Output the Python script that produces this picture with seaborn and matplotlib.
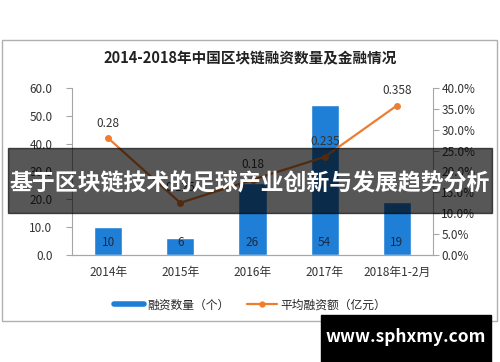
import matplotlib
matplotlib.use("Agg")
import matplotlib.pyplot as plt
from matplotlib.patches import Rectangle
from matplotlib.lines import Line2D
import seaborn as sns

sns.set_style("white")
plt.rcParams['font.family'] = ['Noto Sans CJK SC', 'DejaVu Sans']

# data
years = ["2014年", "2015年", "2016年", "2017年", "2018年1-2月"]
counts = [10, 6, 26, 54, 19]
avg_amount = [0.28, 0.125, 0.18, 0.235, 0.358]
avg_labels = ["0.28", "0.125", "0.18", "0.235", "0.358"]
left_ticks = [0, 10, 20, 30, 40, 50, 60]
right_ticks = [0, 5, 10, 15, 20, 25, 30, 35, 40]

bar_color = "#1f7fd6"
line_color = "#ed7d31"
axis_gray = "#a6a6a6"
text_color = "#333333"

fig = plt.figure(figsize=(5.0, 3.62), dpi=100)
W, H = 500, 362

# outer chart frame
fig.patches.append(Rectangle((2 / W, 1 - 321 / H), 495 / W, 281 / H,
                             transform=fig.transFigure, fill=False,
                             edgecolor="#b0b0b0", lw=1))

ax = fig.add_axes([72 / W, 1 - 255 / H, 361 / W, 167 / H])
sns.barplot(x=years, y=counts, color=bar_color, width=0.39,
            saturation=1, ax=ax)
ax.set_ylim(0, 60)
ax.set_xlim(-0.5, 4.5)
ax.set_yticks(left_ticks)
ax.set_yticklabels([f"{v:.1f}" for v in left_ticks])
ax.set_xlabel("")
ax.set_ylabel("")
for i, v in enumerate(counts):
    ax.text(i, 4.5, str(v), ha="center", va="center", fontsize=8.5,
            color="#1a2a44")

ax2 = ax.twinx()
pct = [v * 100 for v in avg_amount]
sns.lineplot(x=list(range(len(years))), y=pct, color=line_color, lw=1.6,
             marker="o", markersize=5, markeredgewidth=0, ax=ax2)
ax2.set_ylim(0, 40)
ax2.set_yticks(right_ticks)
ax2.set_yticklabels([f"{v:.1f}%" for v in right_ticks])
for i, v in enumerate(pct):
    ax2.text(i, v + 3.6, avg_labels[i], ha="center", va="center",
             fontsize=8.5, color=text_color)

# x ticks at category boundaries
ax.set_xticks(range(len(years)))
ax.set_xticklabels(years)
ax.set_xticks([-0.5, 0.5, 1.5, 2.5, 3.5, 4.5], minor=True)
ax.tick_params(axis="x", which="major", length=0, labelsize=8.5,
               colors=text_color, pad=8)
ax.tick_params(axis="x", which="minor", length=4, color=axis_gray,
               direction="out")
ax.tick_params(axis="y", length=4, color=axis_gray, direction="out",
               labelsize=8.5, labelcolor=text_color, pad=10)
ax2.tick_params(axis="y", length=4, color=axis_gray, direction="out",
                labelsize=8.5, labelcolor=text_color, pad=2)
for a in (ax, ax2):
    a.spines["top"].set_visible(False)
    for s in ("left", "right", "bottom"):
        a.spines[s].set_color(axis_gray)
ax2.spines["left"].set_visible(False)
ax.spines["right"].set_visible(False)

fig.text(0.5, 1 - 58 / H, "2014-2018年中国区块链融资数量及金融情况",
         ha="center", va="center", fontsize=10.5, fontweight="bold",
         color="#222222")

handles = [Line2D([0], [0], color=bar_color, lw=4),
           Line2D([0], [0], color=line_color, lw=1.6, marker="o",
                  markersize=4.5, markeredgewidth=0)]
fig.legend(handles, ["融资数量（个）", "平均融资额（亿元）"],
           loc="center", bbox_to_anchor=(0.5, 1 - 305 / H), ncol=2,
           frameon=False, fontsize=8.5, handlelength=2.5,
           columnspacing=1.5, handletextpad=0.3)

# overlay banner
fig.patches.append(Rectangle((8 / W, 1 - 213 / H), 484 / W, 65 / H,
                             transform=fig.transFigure, color="black",
                             alpha=0.66, zorder=10))
fig.text(0.5, 1 - 184 / H, "基于区块链技术的足球产业创新与发展趋势分析",
         ha="center", va="center", fontsize=16.5, fontweight="bold",
         color="white", zorder=11)

# site tag
fig.patches.append(Rectangle((321 / W, 0), 170 / W, 47 / H,
                             transform=fig.transFigure, color="black",
                             zorder=10))
fig.text(406 / W, 1 - 337 / H, "www.sphxmy.com", ha="center", va="center",
         fontsize=12.5, fontweight="bold", color="white", zorder=11)

fig.savefig("out.png", dpi=100)
